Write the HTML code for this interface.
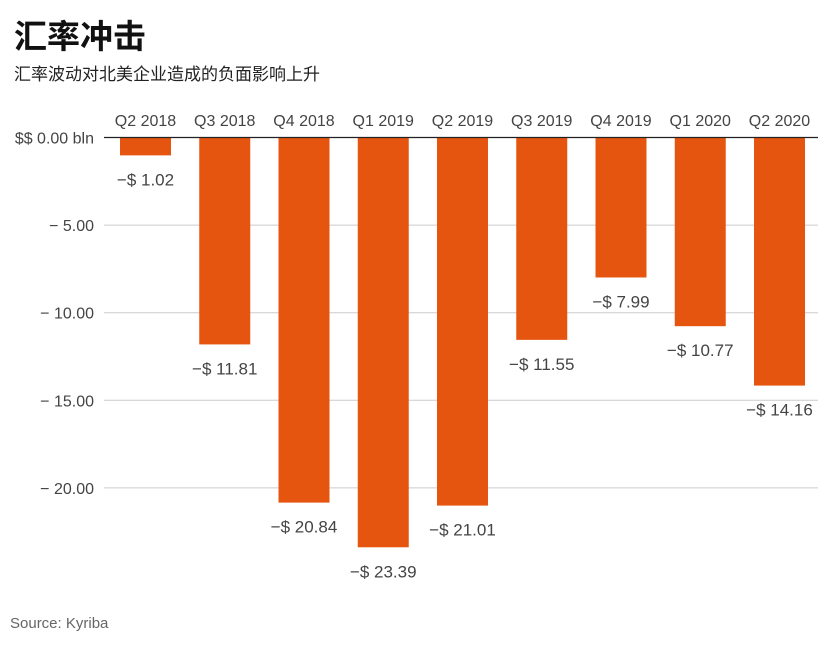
<!DOCTYPE html>
<html><head><meta charset="utf-8"><style>
html,body{margin:0;padding:0;background:#fff;width:831px;height:646px;overflow:hidden}
svg text{font-family:"Liberation Sans","Noto Sans CJK SC",sans-serif}
</style></head><body>
<svg id="chart" width="831" height="646" viewBox="0 0 831 646" xmlns="http://www.w3.org/2000/svg">
<text x="14" y="48" font-size="33" font-weight="bold" fill="#111">汇率冲击</text>
<text x="14" y="80" font-size="17" fill="#222">汇率波动对北美企业造成的负面影响上升</text>
<text x="10" y="628" font-size="15" fill="#666">Source: Kyriba</text>
<g id="grid"></g>
<g id="bars"></g>
<g id="labels"></g>
</svg>
<script>
const categories=["Q2 2018","Q3 2018","Q4 2018","Q1 2019","Q2 2019","Q3 2019","Q4 2019","Q1 2020","Q2 2020"];
const values=[-1.02,-11.81,-20.84,-23.39,-21.01,-11.55,-7.99,-10.77,-14.16];
const ticks=[0,-5,-10,-15,-20];
const tickLabels=["$$ 0.00 bln","− 5.00","− 10.00","− 15.00","− 20.00"];
const NS="http://www.w3.org/2000/svg";
const y=v=>137.5-v*(-17.52)*-1*-1; // placeholder replaced below
function yS(v){return 137.5+(-v)*17.52;}
function xS(i){return 145.5+i*79.25;}
const bw=51;
function mk(tag,attrs,parent){const e=document.createElementNS(NS,tag);for(const k in attrs)e.setAttribute(k,attrs[k]);parent.appendChild(e);return e;}
const grid=document.getElementById('grid'),bars=document.getElementById('bars'),labels=document.getElementById('labels');
ticks.forEach((t,i)=>{
  if(i>0){const l=mk('line',{x1:104,x2:818,y1:yS(t),y2:yS(t),stroke:'#cccccc','stroke-width':1},grid);
  
  }
  const tx=mk('text',{x:94,y:yS(t)+6,'text-anchor':'end','font-size':16,fill:'#444'},grid);
  tx.textContent=tickLabels[i];
  
  
});
values.forEach((v,i)=>{
  const top=yS(0),h=yS(v)-yS(0);
  const r=mk('rect',{x:xS(i)-bw/2,y:top,width:bw,height:h,fill:'#e5550f'},bars);
  
  
  const c=mk('text',{x:xS(i),y:126,'text-anchor':'middle','font-size':16,fill:'#444'},labels);
  c.textContent=categories[i];
  
  
  const vl=mk('text',{x:xS(i),y:yS(v)+30,'text-anchor':'middle','font-size':17,fill:'#444'},labels);
  vl.textContent='−$ '+Math.abs(v).toFixed(2);
  
  
});
const zl=mk('line',{x1:104,x2:818,y1:yS(0),y2:yS(0),stroke:'#222','stroke-width':1.2},labels);


</script>
</body></html>
